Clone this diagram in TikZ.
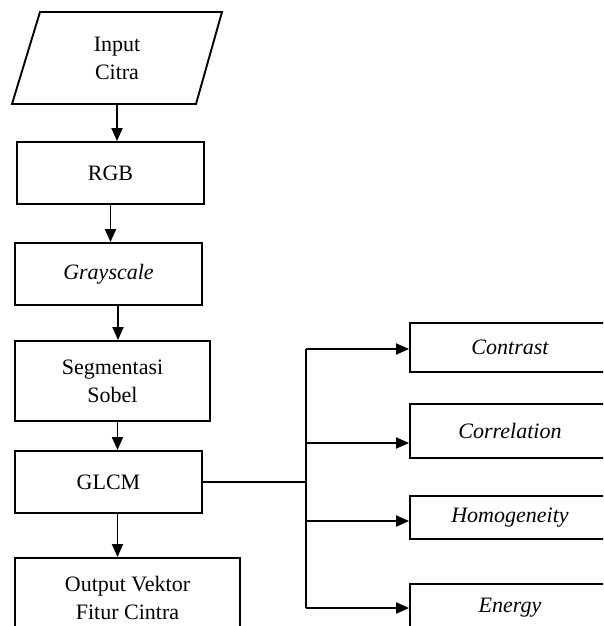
\documentclass[tikz,border=0pt]{standalone}
\usepackage{fontspec}
\setmainfont{Liberation Serif}
\usetikzlibrary{arrows.meta,calc}
\begin{document}
\begin{tikzpicture}[x=1pt,y=-1pt,
  font=\fontsize{22}{28}\selectfont,
  ln/.style={line width=1.9pt},
  box/.style={draw, line width=1.9pt, inner sep=0pt, align=center},
  arr/.style={line width=1.9pt, -{Triangle[length=13pt,width=11pt]}}]
\useasboundingbox[clip] (0,0) rectangle (603,626);
\fill[white] (0,0) rectangle (603,626);
% input parallelogram
\node[align=center, inner sep=0pt, minimum height=92pt] (in) at (117,58) {Input\\Citra};
\draw[ln] (40,12) -- (222,12) -- (196,104) -- (12,104) -- cycle;
% left column
\node[box, minimum width=187pt, minimum height=62pt] (rgb) at (110.5,173) {RGB};
\node[box, minimum width=187pt, minimum height=62pt] (gray) at (108.5,274) {\itshape Grayscale};
\node[box, minimum width=195pt, minimum height=80pt] (seg) at (112.5,381) {Segmentasi\\Sobel};
\node[box, minimum width=187pt, minimum height=62pt] (glcm) at (108.5,482) {GLCM};
\node[box, minimum width=225pt, minimum height=80pt] (out) at (127.5,598) {Output Vektor\\Fitur Cintra};
% right column
\node[box, minimum width=200pt, minimum height=49pt] (con) at (510,347.5) {\itshape Contrast};
\node[box, minimum width=200pt, minimum height=54pt] (cor) at (510,431) {\itshape Correlation};
\node[box, minimum width=200pt, minimum height=43pt] (hom) at (510,517.5) {\itshape Homogeneity};
\node[box, minimum width=200pt, minimum height=48pt] (ene) at (510,608) {\itshape Energy};
% connectors
\draw[arr] (in.south) -- (in.south |- rgb.north);
\draw[arr] (rgb.south) -- (rgb.south |- gray.north);
\draw[arr] ([xshift=9.5pt]gray.south) -- ([xshift=9.5pt]gray.south |- seg.north);
\draw[arr] ([xshift=5pt]seg.south) -- ([xshift=5pt]seg.south |- glcm.north);
\draw[arr] ([xshift=9pt]glcm.south) -- ([xshift=9pt]glcm.south |- out.north);
\coordinate (b1) at (306,349);
\coordinate (b2) at (306,443);
\coordinate (b3) at (306,521);
\coordinate (b4) at (306,608);
\draw[ln] (glcm.east) -- (glcm.east -| b1);
\draw[ln] (b1) -- (b4);
\draw[arr] (b1) -- (b1 -| con.west);
\draw[arr] (b2) -- (b2 -| cor.west);
\draw[arr] (b3) -- (b3 -| hom.west);
\draw[arr] (b4) -- (b4 -| ene.west);
\end{tikzpicture}
\end{document}
